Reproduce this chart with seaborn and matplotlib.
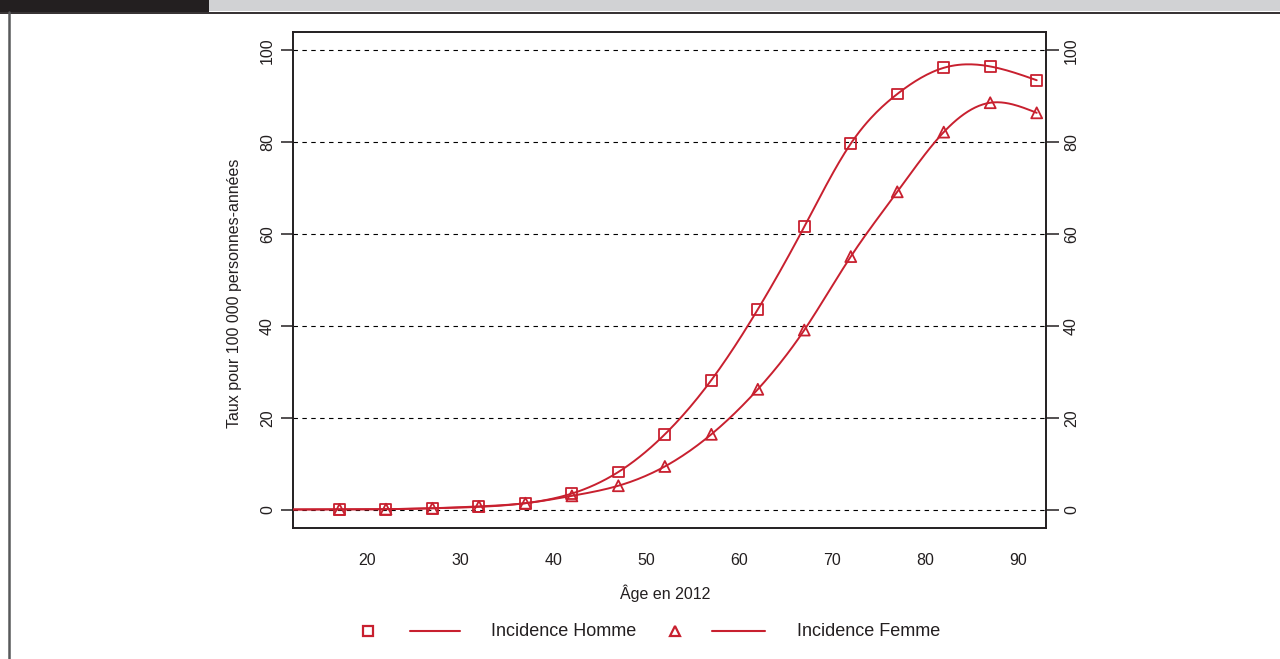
import numpy as np
import pandas as pd
import matplotlib
matplotlib.use("Agg")
import matplotlib.pyplot as plt
from matplotlib.lines import Line2D
from matplotlib.patches import Rectangle
import seaborn as sns

# Age-specific incidence rates (per 100 000 person-years), 5-year age groups
ages = [17, 22, 27, 32, 37, 42, 47, 52, 57, 62, 67, 72, 77, 82, 87, 92]
incidence_homme = [0.05, 0.1, 0.3, 0.6, 1.4, 3.5, 8.2, 16.4, 28.2, 43.6, 61.6, 79.7, 90.5, 96.2, 96.5, 93.5]
incidence_femme = [0.05, 0.1, 0.3, 0.7, 1.4, 3.0, 5.2, 9.4, 16.4, 26.2, 39.1, 55.1, 69.2, 82.2, 88.6, 86.4]
x_ticks = [20, 30, 40, 50, 60, 70, 80, 90]
y_ticks = [0, 20, 40, 60, 80, 100]
labels = ["Incidence Homme", "Incidence Femme"]

RED = "#C8202F"
INK = "#231F20"
FONT = "Liberation Sans"

sns.set_theme(style="white")
plt.rcParams["font.family"] = [FONT, "DejaVu Sans"]


def natural_spline(x, y, xs):
    """Evaluate a natural cubic spline through (x, y) at xs, linear outside."""
    x = np.asarray(x, float)
    y = np.asarray(y, float)
    n = len(x)
    h = np.diff(x)
    A = np.zeros((n, n))
    b = np.zeros(n)
    A[0, 0] = A[-1, -1] = 1.0
    for i in range(1, n - 1):
        A[i, i - 1] = h[i - 1]
        A[i, i] = 2 * (h[i - 1] + h[i])
        A[i, i + 1] = h[i]
        b[i] = 3 * ((y[i + 1] - y[i]) / h[i] - (y[i] - y[i - 1]) / h[i - 1])
    c = np.linalg.solve(A, b)
    bb = (y[1:] - y[:-1]) / h - h * (2 * c[:-1] + c[1:]) / 3
    d = (c[1:] - c[:-1]) / (3 * h)
    out = np.empty_like(xs, dtype=float)
    for k, xv in enumerate(xs):
        if xv <= x[0]:
            out[k] = y[0] + bb[0] * (xv - x[0])
        elif xv >= x[-1]:
            dx = x[-1] - x[-2]
            slope = bb[-1] + 2 * c[-2] * dx + 3 * d[-1] * dx ** 2
            out[k] = y[-1] + slope * (xv - x[-1])
        else:
            i = min(np.searchsorted(x, xv) - 1, n - 2)
            t = xv - x[i]
            out[k] = y[i] + bb[i] * t + c[i] * t ** 2 + d[i] * t ** 3
    return out


pts = pd.DataFrame({
    "age": ages * 2,
    "taux": incidence_homme + incidence_femme,
    "serie": [labels[0]] * len(ages) + [labels[1]] * len(ages),
})

xs = np.linspace(12, 92, 400)
curves = pd.DataFrame({
    "age": np.concatenate([xs, xs]),
    "taux": np.concatenate([natural_spline(ages, incidence_homme, xs),
                            natural_spline(ages, incidence_femme, xs)]),
    "serie": [labels[0]] * len(xs) + [labels[1]] * len(xs),
})

W, H = 1280, 659
fig = plt.figure(figsize=(W / 100, H / 100), dpi=100)
ax = fig.add_axes([293 / W, 1 - 528 / H, (1046 - 293) / W, (528 - 32) / H])

for yv in y_ticks:
    ax.axhline(yv, color="black", lw=0.8, ls=(0, (4, 4)), zorder=1)

sns.lineplot(data=curves, x="age", y="taux", hue="serie", palette=[RED, RED],
             lw=1.4, legend=False, ax=ax, zorder=3)
sns.scatterplot(data=pts, x="age", y="taux", style="serie", markers=["s", "^"],
                s=62, color=RED, linewidth=1.3, legend=False, ax=ax, zorder=4)
# open markers in red
for coll in ax.collections:
    coll.set_facecolor("none")
    coll.set_edgecolor(RED)

ax.set_xlim(12, 93)
ax.set_ylim(-4, 104)
ax.set_xticks(x_ticks)
ax.set_yticks(y_ticks)
ax.set_xlabel("")
ax.set_ylabel("")
for s in ax.spines.values():
    s.set_visible(True)
    s.set_color(INK)
    s.set_linewidth(1.4)

ax.tick_params(axis="both", direction="out", length=9, width=1.1, color=INK,
               labelsize=11.5, labelcolor=INK)
ax.tick_params(axis="x", pad=9)
ax.tick_params(axis="y", pad=4, right=True, labelright=True, left=True)
for t in ax.yaxis.get_major_ticks():
    t.label1.set_rotation(90)
    t.label1.set_va("center")
    t.label2.set_rotation(90)
    t.label2.set_va("center")

# Axis titles
fig.text(665 / W, 1 - 593 / H, "Âge en 2012", ha="center", va="center",
         fontsize=11.5, color=INK)
fig.text(235 / W, 1 - 293 / H, "Taux pour 100 000 personnes-années", ha="center",
         va="center", rotation=90, fontsize=11.5, color=INK)

# Legend row
ly = 1 - 631 / H
fig.add_artist(Line2D([368 / W], [ly], marker="s", ms=7.5, mfc="none", mec=RED,
                      mew=1.6, ls="none", transform=fig.transFigure))
fig.add_artist(Line2D([410 / W, 460 / W], [ly, ly], color=RED, lw=1.5,
                      transform=fig.transFigure))
fig.text(491 / W, ly, labels[0], ha="left", va="center", fontsize=13, color=INK)
fig.add_artist(Line2D([675 / W], [ly], marker="^", ms=7, mfc="none", mec=RED,
                      mew=1.6, ls="none", transform=fig.transFigure))
fig.add_artist(Line2D([712 / W, 765 / W], [ly, ly], color=RED, lw=1.5,
                      transform=fig.transFigure))
fig.text(797 / W, ly, labels[1], ha="left", va="center", fontsize=13, color=INK)

# Header band and left frame
fig.add_artist(Rectangle((0, 1 - 12 / H), 209 / W, 12 / H, transform=fig.transFigure,
                         facecolor=INK, edgecolor="none"))
fig.add_artist(Rectangle((209 / W, 1 - 11 / H), 1 - 209 / W, 11 / H,
                         transform=fig.transFigure, facecolor="#D1D2D4", edgecolor="none"))
fig.add_artist(Line2D([0, 1], [1 - 12.5 / H, 1 - 12.5 / H], color=INK, lw=1.3,
                      transform=fig.transFigure))
fig.add_artist(Line2D([8.5 / W, 8.5 / W], [0, 1 - 12 / H], color="#58595B", lw=1.8,
                      transform=fig.transFigure))

fig.savefig("out.png", dpi=100, facecolor="white")
